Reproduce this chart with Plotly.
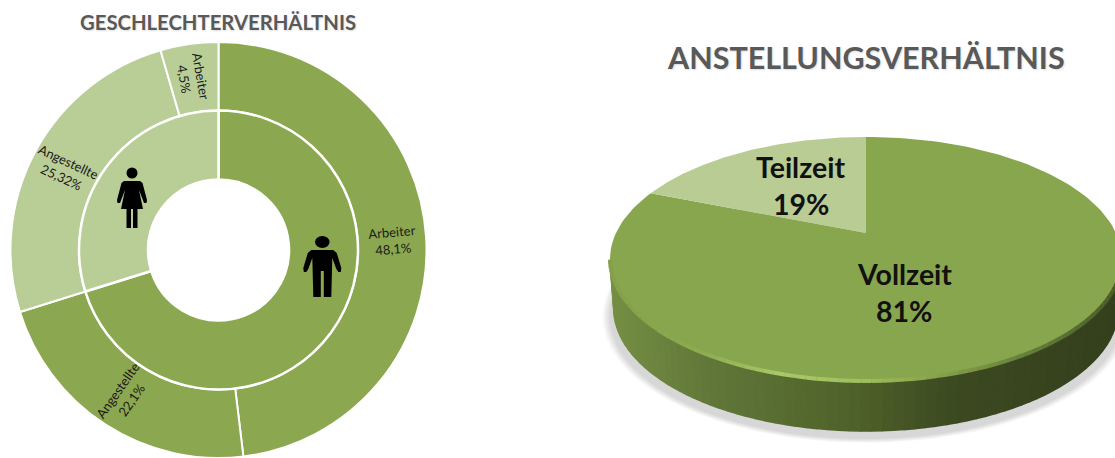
import numpy as np
import plotly.graph_objects as go

W, H = 1115, 458

# Gender ratio: inner ring (men / women), outer ring (job type within each)
ring_inner_labels = ["Männer", "Frauen"]
ring_inner_values = [70.2, 29.82]
ring_outer_labels = ["Arbeiter", "Angestellte", "Angestellte", "Arbeiter"]
ring_outer_groups = ["Männer", "Männer", "Frauen", "Frauen"]
ring_outer_values = [48.1, 22.1, 25.32, 4.5]
ring_outer_text = ["48,1%", "22,1%", "25,32%", "4,5%"]

# Employment type
job_labels = ["Vollzeit", "Teilzeit"]
job_values = [81, 19]

DARK = "#8ba850"
LIGHT = "#b9ce96"
TOP_GREEN = "#88a64d"
TOP_LIGHT = "#b8cc93"
TITLE = "#595959"
FONT = "Lato"

# Donut geometry in pixels
DCX, DCY = 218.5, 250.0
R_OUT, R_MID, R_HOLE = 208.0, 139.5, 70.5


def pie_domain(radius):
    return dict(
        x=[(DCX - radius) / W, (DCX + radius) / W],
        y=[1 - (DCY + radius) / H, 1 - (DCY - radius) / H],
    )


fig = go.Figure()

# Tilted pie geometry: a circle seen in perspective
PCX, PCY = 866.0, 233.0
PERSP = 0.216
AX, AY = 250.0, 116.8
DEPTH = 49.0


def rim(theta):
    """Screen position of a rim point; theta runs clockwise from 12 o'clock."""
    u, v = np.sin(theta), np.cos(theta)
    d = 1 + PERSP * v
    return PCX + AX * u / d, PCY - AY * v / d


def blend(x, stops):
    xs = [s[0] for s in stops]
    rgb = [[int(s[1][i:i + 2], 16) for s in stops] for i in (1, 3, 5)]
    c = [round(float(np.interp(x, xs, ch))) for ch in rgb]
    return f"rgb({c[0]},{c[1]},{c[2]})"


def add_poly(xs, ys, color, line=0):
    fig.add_trace(go.Scatter(
        x=xs, y=ys, mode="lines", fill="toself", fillcolor=color,
        line=dict(color=color, width=line), hoverinfo="skip", showlegend=False,
    ))


# Soft drop shadow under the pie
th = np.linspace(0, 2 * np.pi, 181)
rx, ry = rim(th)
mx, my = rx.mean(), ry.mean()
for grow in np.linspace(1.0, 1.03, 8):
    add_poly(mx + (rx - mx) * grow, my + (ry - my) * grow + DEPTH + 8,
             "rgba(0,0,0,0.018)")

# Side wall, shaded left to right in narrow strips
WALL_STOPS = [(610, "#758f43"), (700, "#62793a"), (860, "#4e6029"),
              (950, "#3c4a21"), (1120, "#343f1c")]
edges = np.radians(np.linspace(103, 257, 78))
for a, b in zip(edges[:-1], edges[1:]):
    x0, y0 = rim(np.array([a, b]))
    xb = PCX + (x0 - PCX) * 0.985
    add_poly([x0[0], x0[1], xb[1], xb[0]],
             [y0[0], y0[1], y0[1] + DEPTH, y0[0] + DEPTH],
             blend(x0.mean(), WALL_STOPS), line=1.5)

# Top surface wedges, clockwise from 12 o'clock
shares = np.cumsum([0] + job_values) / sum(job_values) * 2 * np.pi
for i, color in enumerate([TOP_GREEN, TOP_LIGHT]):
    arc = np.linspace(shares[i], shares[i + 1], 160)
    ax_, ay_ = rim(arc)
    add_poly(np.r_[PCX, ax_], np.r_[PCY, ay_], color)

# Bevel highlight along the front edge of the top surface
RIM_STOPS = [(610, "#84a14a"), (700, "#8dac4f"), (780, "#a9c968"),
             (860, "#a0bf5d"), (930, "#8aa54c"), (1000, "#6f8a3e"),
             (1060, "#5a7033"), (1120, "#4a5a28")]
edges = np.radians(np.linspace(103, 257, 78))
for a, b in zip(edges[:-1], edges[1:]):
    x0, y0 = rim(np.array([a, b]))
    fig.add_trace(go.Scatter(
        x=x0, y=y0 - 1, mode="lines", hoverinfo="skip", showlegend=False,
        line=dict(color=blend(x0.mean(), RIM_STOPS), width=4),
    ))

# Two-ring donut; slice names are kept distinct so the pie does not merge them
fig.add_trace(go.Pie(
    labels=[f"{g}: {n}" for g, n in zip(ring_outer_groups, ring_outer_labels)],
    values=ring_outer_values, sort=False,
    direction="clockwise", rotation=0, hole=R_MID / R_OUT,
    domain=pie_domain(R_OUT), textinfo="none", showlegend=False,
    marker=dict(colors=[DARK, DARK, LIGHT, LIGHT],
                line=dict(color="white", width=2)),
))
fig.add_trace(go.Pie(
    labels=ring_inner_labels, values=ring_inner_values, sort=False,
    direction="clockwise", rotation=0, hole=R_HOLE / R_MID,
    domain=pie_domain(R_MID), textinfo="none", showlegend=False,
    marker=dict(colors=[DARK, LIGHT], line=dict(color="white", width=2.5)),
))


def note(x, y, text, size, color="#1a1a1a", bold=False, angle=0, shadow=None):
    fnt = dict(family=FONT, size=size, color=color,
               weight="bold" if bold else "normal")
    if shadow:
        fnt["shadow"] = shadow
    fig.add_annotation(x=x, y=y, xref="x", yref="y", text=text, showarrow=False,
                       font=fnt, textangle=angle, align="center",
                       xanchor="center", yanchor="middle")


# Ring labels, rotated along their segments
label_spots = [(392, 240, -5), (124, 395, -55), (65, 169, 25), (193, 77, 80)]
for name, txt, (lx, ly, la) in zip(ring_outer_labels, ring_outer_text, label_spots):
    note(lx, ly, f"{name}<br>{txt}", 13, angle=la)

# Titles
note(218, 21.5, "GESCHLECHTERVERHÄLTNIS", 20.3, color=TITLE, bold=True,
     shadow="1px 1px 2px #dddddd")
note(866, 57, "ANSTELLUNGSVERHÄLTNIS", 30.5, color=TITLE, bold=True,
     shadow="1px 1px 2px #dddddd")

# Tilted pie labels, one text per line
pie_spots = [(904, 274, 311), (801, 167, 204)]
for name, val, (tx, y1, y2) in zip(job_labels, job_values, pie_spots):
    note(tx, y1, name, 28.5, color="#111111", bold=True)
    note(tx, y2, f"{val}%", 28.5, color="#111111", bold=True)


def mirrored(points):
    """Closed outline from right-hand points, mirrored about x = 0."""
    return points + [(-x, y) for x, y in reversed(points)]


def outline_path(ox, points):
    seg = [f"{ox + x:.1f},{y:.1f}" for x, y in points]
    return "M " + " L ".join(seg) + " Z"


# Pictograms above the inner ring
woman_x, man_x = 132.0, 322.3
woman = mirrored([(0, 181), (8, 181), (10.5, 183), (15, 200), (14.5, 203), (12, 203),
                  (7, 190), (11, 209), (5.5, 209), (5.5, 228), (1, 228), (1, 209), (0, 209)])
man = mirrored([(0, 250), (11, 250), (14.5, 253), (19, 268), (18.5, 272), (16, 272),
                (14, 269), (10, 258), (9, 297), (1.5, 297), (1.5, 271), (0, 271)])
black = dict(fillcolor="black", line=dict(width=0), xref="x", yref="y", layer="above")
fig.add_shape(type="path", path=outline_path(woman_x, woman), **black)
fig.add_shape(type="path", path=outline_path(man_x, man), **black)
fig.add_shape(type="circle", x0=woman_x - 5.5, x1=woman_x + 5.5, y0=167.5, y1=178.5, **black)
fig.add_shape(type="circle", x0=man_x - 7.3, x1=man_x + 7.3, y0=236, y1=248, **black)

hidden = dict(visible=False, fixedrange=True)
fig.update_layout(
    width=W, height=H, margin=dict(l=0, r=0, t=0, b=0),
    paper_bgcolor="white", plot_bgcolor="white", showlegend=False,
    xaxis=dict(range=[0, W], domain=[0, 1], **hidden),
    yaxis=dict(range=[H, 0], domain=[0, 1], **hidden),
)

fig.write_html("out.html", config=dict(displayModeBar=False))
